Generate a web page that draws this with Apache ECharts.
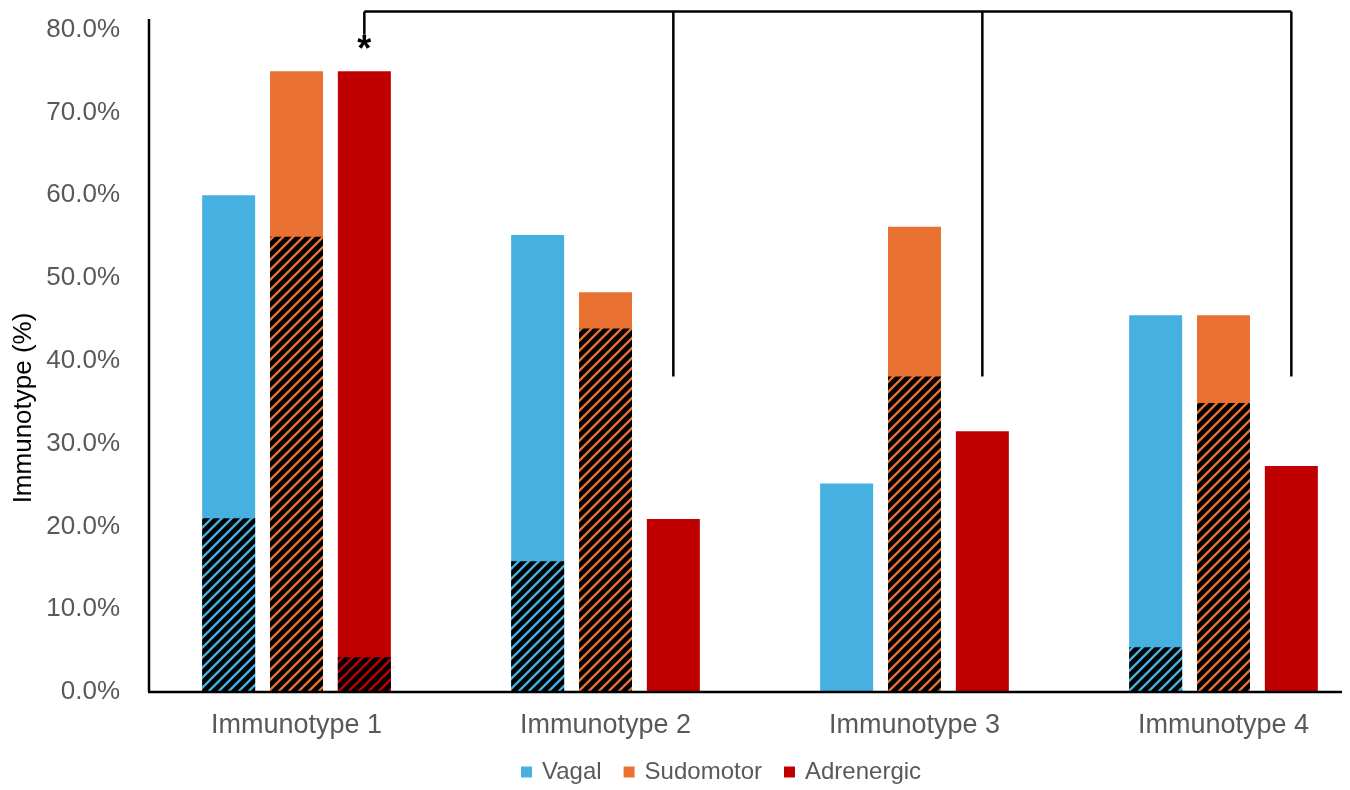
<!DOCTYPE html>
<html>
<head>
<meta charset="utf-8">
<script src="https://cdn.jsdelivr.net/npm/echarts@6/dist/echarts.min.js"></script>
<style>
html,body{margin:0;padding:0;background:#fff;}
#chart{width:1350px;height:790px;}
</style>
</head>
<body>
<div id="chart"></div>
<script>
// ---- data ----
const categories = ['Immunotype 1', 'Immunotype 2', 'Immunotype 3', 'Immunotype 4'];
const seriesNames = ['Vagal', 'Sudomotor', 'Adrenergic'];
// bar totals (%)
const vagalTotal      = [60.0, 55.2, 25.2, 45.5];
const sudomotorTotal  = [75.0, 48.3, 56.2, 45.5];
const adrenergicTotal = [75.0, 20.9, 31.5, 27.3];
// hatched (lower) part of each bar (%)
const vagalHatched      = [21.0, 15.8, 0, 5.4];
const sudomotorHatched  = [55.0, 43.9, 38.1, 34.9];
const adrenergicHatched = [4.2, 0, 0, 0];
// significance bracket (values in % on y axis)
const bracketTop = 82.2;
const bracketFirstDropEnd = 79.4;
const bracketOtherDropEnd = 38.1;
const asteriskLevel = 77.4;

// ---- style ----
const colors = ['#46B0E0', '#E97132', '#C00000'];
const FONT = '"Liberation Sans", Arial, sans-serif';
const GREY = '#595959';

function hatch(color) {
  const s = 10;
  const c = document.createElement('canvas');
  c.width = s; c.height = s;
  const g = c.getContext('2d');
  g.fillStyle = '#000';
  g.fillRect(0, 0, s, s);
  g.strokeStyle = color;
  g.lineWidth = 2.3;
  g.beginPath();
  g.moveTo(-s, 2 * s); g.lineTo(2 * s, -s);
  g.moveTo(-s, s); g.lineTo(s, -s);
  g.moveTo(0, 2 * s); g.lineTo(2 * s, 0);
  g.stroke();
  return { image: c, repeat: 'repeat' };
}

const totals = [vagalTotal, sudomotorTotal, adrenergicTotal];
const hatched = [vagalHatched, sudomotorHatched, adrenergicHatched];

const BAR_W = 53;
const BAR_GAP = '28%';

const series = [];
seriesNames.forEach((n, i) => {
  series.push({
    name: n, type: 'bar', xAxisIndex: 0, yAxisIndex: 0,
    data: totals[i], barWidth: BAR_W, barGap: BAR_GAP,
    itemStyle: { color: colors[i] }, silent: true
  });
});
seriesNames.forEach((n, i) => {
  series.push({
    name: n + ' (hatched)', type: 'bar', xAxisIndex: 1, yAxisIndex: 0,
    data: hatched[i], barWidth: BAR_W, barGap: BAR_GAP,
    itemStyle: { color: hatch(colors[i]) }, silent: true
  });
});

const GRID_LEFT = 142;
const AXIS_X = 149;
const chart = echarts.init(document.getElementById('chart'), null, { renderer: 'canvas' });
chart.setOption({
  animation: false,
  backgroundColor: '#fff',
  textStyle: { fontFamily: FONT },
  grid: { left: GRID_LEFT, width: 1236, top: 19, height: 673, containLabel: false, outerBoundsMode: 'none' },
  legend: {
    data: seriesNames,
    left: 521, top: 760, padding: 0,
    icon: 'rect', itemWidth: 11, itemHeight: 11, itemGap: 22,
    textStyle: { color: GREY, fontSize: 24, fontFamily: FONT, padding: [0, 0, 0, 5] }
  },
  xAxis: [{
    type: 'category', data: categories, gridIndex: 0,
    axisLine: { show: false },
    axisTick: { show: false },
    axisLabel: { color: GREY, fontSize: 27, margin: 20, fontFamily: FONT }
  }, {
    type: 'category', data: categories, gridIndex: 0, show: false
  }],
  yAxis: {
    type: 'value', min: 0, max: 81.3, interval: 10,
    splitLine: { show: false },
    axisTick: { show: false },
    axisLine: { show: false },
    axisLabel: {
      color: GREY, fontSize: 26, margin: 22, fontFamily: FONT, showMaxLabel: false,
      formatter: v => (v % 10 === 0 ? v.toFixed(1) + '%' : '')
    }
  },
  series: series
});

// ---- annotations computed through the chart's scales ----
function barCenterX(seriesIndex, dataIndex) {
  try {
    const l = chart.getModel().getSeriesByIndex(seriesIndex).getData().getItemLayout(dataIndex);
    return l.x + l.width / 2;
  } catch (e) {
    return chart.convertToPixel({ xAxisIndex: 0 }, categories[dataIndex]) + BAR_W * 1.28;
  }
}
const yPx = v => chart.convertToPixel({ yAxisIndex: 0 }, v);
const adrIdx = 2;
const xs = categories.map((c, i) => barCenterX(adrIdx, i));
const yTop = yPx(bracketTop);
const lineStyle = { stroke: '#000', lineWidth: 2.5 };
const els = [];
// axis lines (reference's axis frame sits slightly inside the category band and is cropped at the right)
els.push({ type: 'line', shape: { x1: AXIS_X, y1: 19, x2: AXIS_X, y2: yPx(0) }, style: { stroke: '#000', lineWidth: 2.5 }, z: 10 });
els.push({ type: 'line', shape: { x1: AXIS_X - 1, y1: yPx(0), x2: 1342, y2: yPx(0) }, style: { stroke: '#000', lineWidth: 2.5 }, z: 10 });
els.push({ type: 'line', shape: { x1: xs[0], y1: yTop, x2: xs[xs.length - 1], y2: yTop }, style: lineStyle, z: 10 });
els.push({ type: 'line', shape: { x1: xs[0], y1: yTop, x2: xs[0], y2: yPx(bracketFirstDropEnd) }, style: lineStyle, z: 10 });
for (let i = 1; i < xs.length; i++) {
  els.push({ type: 'line', shape: { x1: xs[i], y1: yTop, x2: xs[i], y2: yPx(bracketOtherDropEnd) }, style: lineStyle, z: 10 });
}
els.push({ type: 'text', x: xs[0], y: yPx(asteriskLevel), style: { text: '*', fill: '#000', font: 'bold 36px ' + FONT, textAlign: 'center', textVerticalAlign: 'middle' }, z: 10 });
// y axis title
els.push({ type: 'text', x: 24, y: 408, rotation: Math.PI / 2, style: { text: 'Immunotype (%)', fill: '#000', font: '26px ' + FONT, textAlign: 'center', textVerticalAlign: 'middle' }, z: 10 });
chart.setOption({ graphic: { elements: els } });
</script>
</body>
</html>
